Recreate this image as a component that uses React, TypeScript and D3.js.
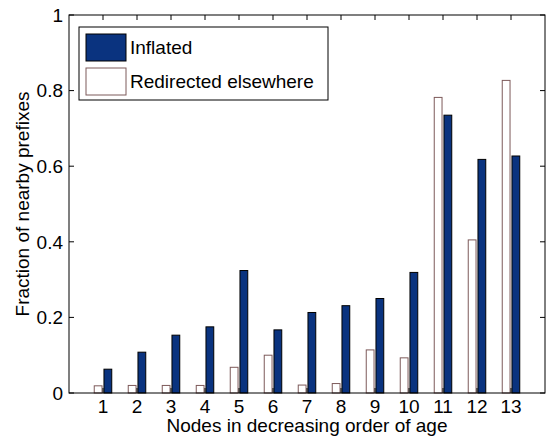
import React from 'react';
import * as d3 from 'd3';

const nodes = [1, 2, 3, 4, 5, 6, 7, 8, 9, 10, 11, 12, 13];
const inflated = [0.063, 0.108, 0.153, 0.175, 0.324, 0.167, 0.213, 0.231, 0.25, 0.319, 0.735, 0.618, 0.627];
const redirected = [0.019, 0.02, 0.02, 0.02, 0.068, 0.1, 0.021, 0.025, 0.114, 0.093, 0.782, 0.405, 0.827];
const yTicks = [0, 0.2, 0.4, 0.6, 0.8, 1];
const yTickLabels = ['0', '0.2', '0.4', '0.6', '0.8', '1'];
const legendLabels = ['Inflated', 'Redirected elsewhere'];

const W = 547;
const H = 436;
const font = 'Liberation Sans, Arial, Helvetica, sans-serif';
const fs = 19;
const navy = '#0a337f';
const brown = '#7d5a5a';

const App = () => {
  const x = d3.scaleLinear().domain([0, 14]).range([69, 545]);
  const y = d3.scaleLinear().domain([0, 1]).range([393, 15]);
  const [x0, x1] = x.range();
  const [yb, yt] = y.range();

  // matlab grouped bar geometry: 2 series
  const off = 0.143;
  const bw = x(0.229) - x(0);
  const tick = 5;

  return (
    <svg width={W} height={H} style={{ position: 'absolute', left: 0, top: 0, background: '#fff' }}>
      {nodes.map((n, i) => (
        <g key={n}>
          <rect
            x={x(n - off) - bw / 2}
            y={y(redirected[i])}
            width={bw}
            height={yb - y(redirected[i])}
            fill="#fff"
            stroke={brown}
            strokeWidth={1}
          />
          <rect
            x={x(n + off) - bw / 2}
            y={y(inflated[i])}
            width={bw}
            height={yb - y(inflated[i])}
            fill={navy}
            stroke="#000"
            strokeWidth={1}
          />
        </g>
      ))}

      {/* frame */}
      <rect x={x0} y={yt} width={x1 - x0} height={yb - yt} fill="none" stroke="#000" strokeWidth={1} />

      {/* y ticks both sides */}
      {yTicks.map((t, i) => (
        <g key={t}>
          <line x1={x0} x2={x0 + tick} y1={y(t)} y2={y(t)} stroke="#000" />
          <line x1={x1} x2={x1 - tick} y1={y(t)} y2={y(t)} stroke="#000" />
          <text
            x={x0 - 6}
            y={y(t)}
            dy="0.36em"
            textAnchor="end"
            fontFamily={font}
            fontSize={fs}
            fill="#000"
          >
            {yTickLabels[i]}
          </text>
        </g>
      ))}

      {/* x ticks top and bottom */}
      {nodes.map(n => (
        <g key={n}>
          <line x1={x(n)} x2={x(n)} y1={yb} y2={yb - tick} stroke="#000" />
          <line x1={x(n)} x2={x(n)} y1={yt} y2={yt + tick} stroke="#000" />
          <text x={x(n)} y={yb + 20} textAnchor="middle" fontFamily={font} fontSize={fs} fill="#000">
            {n}
          </text>
        </g>
      ))}

      <text x={(x0 + x1) / 2} y={432} textAnchor="middle" fontFamily={font} fontSize={fs} fill="#000">
        Nodes in decreasing order of age
      </text>
      <text
        transform={`translate(29,${(yb + yt) / 2}) rotate(-90)`}
        textAnchor="middle"
        fontFamily={font}
        fontSize={fs}
        fill="#000"
      >
        Fraction of nearby prefixes
      </text>

      {/* legend */}
      <g>
        <rect x={79} y={27} width={249} height={73} fill="#fff" stroke="#000" strokeWidth={1} />
        <rect x={86} y={34} width={40} height={27} fill={navy} stroke="#000" />
        <rect x={86} y={68} width={40} height={27} fill="#fff" stroke={brown} />
        <text x={130} y={54} fontFamily={font} fontSize={fs} fill="#000">
          {legendLabels[0]}
        </text>
        <text x={130} y={88} fontFamily={font} fontSize={fs} fill="#000">
          {legendLabels[1]}
        </text>
      </g>
    </svg>
  );
};

export default App;
